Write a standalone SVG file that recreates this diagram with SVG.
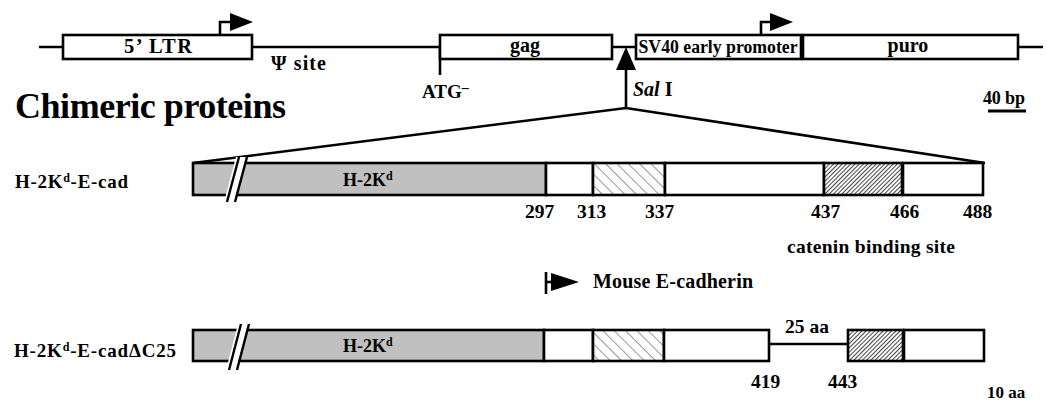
<svg xmlns="http://www.w3.org/2000/svg" width="1047" height="404" viewBox="0 0 1047 404">
<defs>
<pattern id="hatchLight" patternUnits="userSpaceOnUse" width="8" height="8" patternTransform="rotate(-45)">
<rect width="8" height="8" fill="#fff"/>
<line x1="0" y1="0" x2="0" y2="8" stroke="#333" stroke-width="1"/>
</pattern>
<pattern id="hatchDark" patternUnits="userSpaceOnUse" width="3" height="3" patternTransform="rotate(45)">
<rect width="3" height="3" fill="#fff"/>
<line x1="0" y1="0" x2="0" y2="3" stroke="#222" stroke-width="1.7"/>
</pattern>
<style>
text{font-family:"Liberation Serif","Times New Roman",serif;font-weight:bold;fill:#000}
.box{fill:#fff;stroke:#000;stroke-width:2.6}
.gray{fill:#c0c0c0;stroke:#000;stroke-width:2.6}
.ln{fill:none;stroke:#000;stroke-width:2.6}
.lbl{font-size:19px}
.num{font-size:19.5px}
.sup{font-size:12px}
</style>
</defs>

<g id="connectors">
<line class="ln" x1="39" y1="47" x2="1043" y2="47"/>
<line class="ln" x1="440" y1="47" x2="440" y2="75"/>
<polyline class="ln" points="193,163 626,108 985,163"/>
<line class="ln" x1="626" y1="68" x2="626" y2="108"/>
<polygon points="626,47 616,70 636,70" fill="#000"/>
<line class="ln" x1="768" y1="344" x2="848" y2="344" stroke-width="3"/>
</g>

<g id="ltr">
<rect class="box" x="63" y="35" width="189" height="24"/>
<text x="158" y="53" style="font-size:20.5px" text-anchor="middle" textLength="68" lengthAdjust="spacing">5’ LTR</text>
<polyline class="ln" points="220,35 220,22 232,22"/>
<polygon points="230,13 253,22 230,31" fill="#000"/>
</g>
<g id="psi"><text x="271" y="70" style="font-size:20px" textLength="55" lengthAdjust="spacing">Ψ  site</text></g>
<g id="gag">
<rect class="box" x="440" y="35" width="172" height="24"/>
<text x="525" y="52" style="font-size:20px" text-anchor="middle">gag</text>
</g>
<g id="atg"><text class="lbl" x="422" y="98">ATG<tspan style="font-size:14px" dy="-6">–</tspan></text></g>
<g id="sal"><text x="633" y="96" style="font-size:20px"><tspan font-style="italic">Sal</tspan> I</text></g>
<g id="sv40">
<rect class="box" x="636" y="35" width="165" height="24"/>
<text x="718" y="53" style="font-size:18px" text-anchor="middle" textLength="159" lengthAdjust="spacingAndGlyphs">SV40 early promoter</text>
<polyline class="ln" points="761,35 761,22 772,22"/>
<polygon points="770,13 793,22 770,31" fill="#000"/>
</g>
<g id="puro">
<rect class="box" x="803" y="35" width="215" height="24"/>
<text x="908" y="52" style="font-size:20px" text-anchor="middle">puro</text>
</g>
<g id="scale">
<text x="983" y="104" style="font-size:18px" textLength="42" lengthAdjust="spacing">40 bp</text>
<line x1="988" y1="111" x2="1026" y2="111" stroke="#000" stroke-width="3"/>
</g>

<g id="title"><text x="15" y="118" style="font-size:36px" textLength="271" lengthAdjust="spacing">Chimeric proteins</text></g>

<g id="row1">
<text class="lbl" x="15" y="188" textLength="113" lengthAdjust="spacing">H-2K<tspan class="sup" dy="-6">d</tspan><tspan dy="6">-E-cad</tspan></text>
<rect class="gray" x="193" y="163" width="353" height="32"/>
<rect class="box" x="546" y="163" width="47" height="32"/>
<rect class="box" x="593" y="163" width="72" height="32" style="fill:url(#hatchLight)"/>
<rect class="box" x="665" y="163" width="159" height="32"/>
<rect class="box" x="824" y="163" width="78" height="32" style="fill:url(#hatchDark)"/>
<rect class="box" x="903" y="163" width="80" height="32"/>
<polygon points="236,157 246,157 234,202 224,202" fill="#fff"/>
<line x1="239" y1="157" x2="227" y2="202" stroke="#000" stroke-width="2.4"/>
<line x1="247" y1="157" x2="235" y2="202" stroke="#000" stroke-width="2.4"/>
<text x="343" y="186" style="font-size:18px">H-2K<tspan class="sup" dy="-6">d</tspan></text>
<text class="num" x="525" y="218">297</text>
<text class="num" x="577" y="218">313</text>
<text class="num" x="645" y="218">337</text>
<text class="num" x="811" y="218">437</text>
<text class="num" x="890" y="218">466</text>
<text class="num" x="963" y="218">488</text>
<text x="787" y="253" style="font-size:19.5px" textLength="168" lengthAdjust="spacing">catenin binding site</text>
</g>

<g id="mouse">
<line class="ln" x1="546" y1="272" x2="546" y2="294"/>
<line class="ln" x1="546" y1="282" x2="553" y2="282"/>
<polygon points="551,273 579,282 551,291" fill="#000"/>
<text x="593" y="288" style="font-size:20px" textLength="160" lengthAdjust="spacing">Mouse E-cadherin</text>
</g>

<g id="row2">
<text class="lbl" x="14" y="357" textLength="162" lengthAdjust="spacing">H-2K<tspan class="sup" dy="-6">d</tspan><tspan dy="6">-E-cadΔC25</tspan></text>
<rect class="gray" x="193" y="330" width="351" height="31"/>
<rect class="box" x="544" y="330" width="49" height="31"/>
<rect class="box" x="593" y="330" width="71" height="31" style="fill:url(#hatchLight)"/>
<rect class="box" x="664" y="330" width="105" height="31"/>
<rect class="box" x="848" y="330" width="55" height="31" style="fill:url(#hatchDark)"/>
<rect class="box" x="904" y="330" width="80" height="31"/>
<polygon points="238,324 248,324 236,370 226,370" fill="#fff"/>
<line x1="241" y1="324" x2="229" y2="370" stroke="#000" stroke-width="2.4"/>
<line x1="249" y1="324" x2="237" y2="370" stroke="#000" stroke-width="2.4"/>
<text x="343" y="352" style="font-size:18px">H-2K<tspan class="sup" dy="-6">d</tspan></text>
<text class="num" x="785" y="333" textLength="44" lengthAdjust="spacing">25 aa</text>
<text class="num" x="751" y="388">419</text>
<text class="num" x="828" y="388">443</text>
<text x="987" y="398" style="font-size:17px">10 aa</text>
</g>
</svg>
